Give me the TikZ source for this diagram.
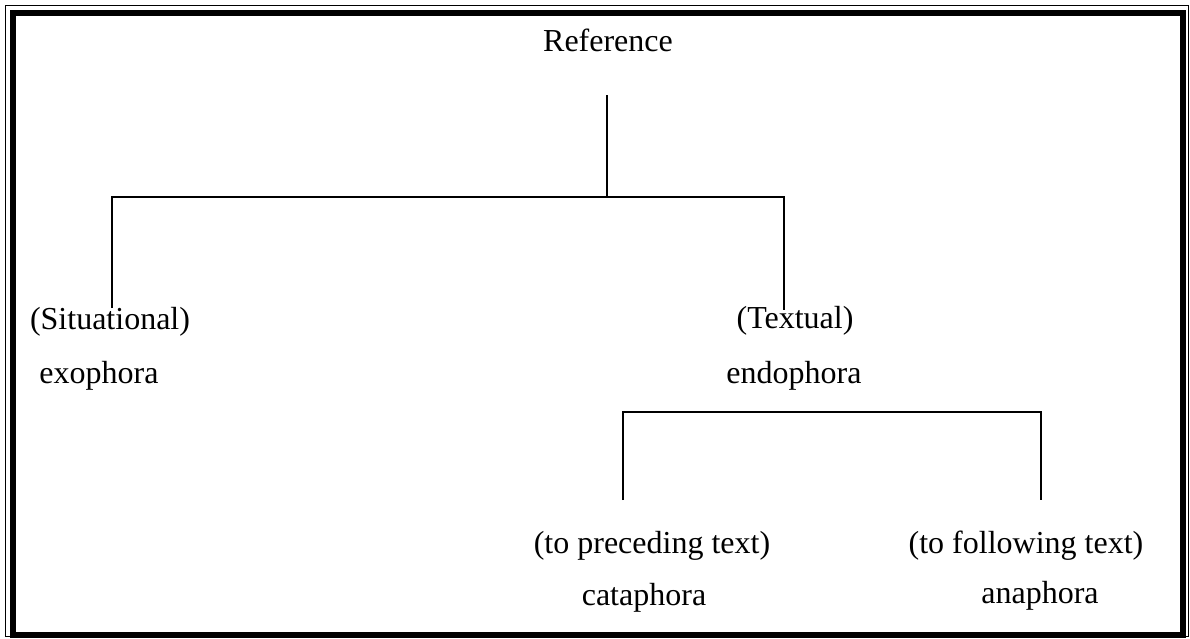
\documentclass[tikz,border=0pt]{standalone}
\usepackage{fontspec}
\setmainfont{Liberation Serif}
\usepackage{tikz}

\tikzset{
  lbl/.style={anchor=base, inner sep=0pt, font=\fontsize{16}{19}\selectfont},
  branch/.style={line width=0.9pt}
}

\begin{document}
\begin{tikzpicture}[x=0.5pt, y=-0.5pt]
      \useasboundingbox (0,0) rectangle (1190,638);

      % frame: thin outer line, thick inner line
      \draw[line width=0.5pt] (5,5) rectangle (1188,636);
      \draw[line width=3pt] (13,13) rectangle (1183,635);

      \node[lbl] (ref) at (608,51) {Reference};

      \node[lbl] (sit) at (110,329) {(Situational)};
      \node[lbl] (exo) at (99,383) {exophora};

      \node[lbl] (txt) at (795,328) {(Textual)};
      \node[lbl] (endo) at (794,383) {endophora};

      \node[lbl] (prec) at (652,553) {(to preceding text)};
      \node[lbl] (cata) at (644,605) {cataphora};

      \node[lbl] (foll) at (1026,553) {(to following text)};
      \node[lbl] (ana) at (1040,603) {anaphora};

      \coordinate (refend) at (607,95);
      \coordinate (refjoin) at (607,197);
      \coordinate (exoend) at (112,308);
      \coordinate (endoend) at (784,310);

      \draw[branch] (refend) -- (refjoin);
      \draw[branch] (exoend) |- (refjoin) -| (endoend);

      \coordinate (endojoin) at (832,412);
      \coordinate (cataend) at (623,500);
      \coordinate (anaend) at (1041,500);

      \draw[branch] (cataend) |- (endojoin) -| (anaend);

\end{tikzpicture}
\end{document}
